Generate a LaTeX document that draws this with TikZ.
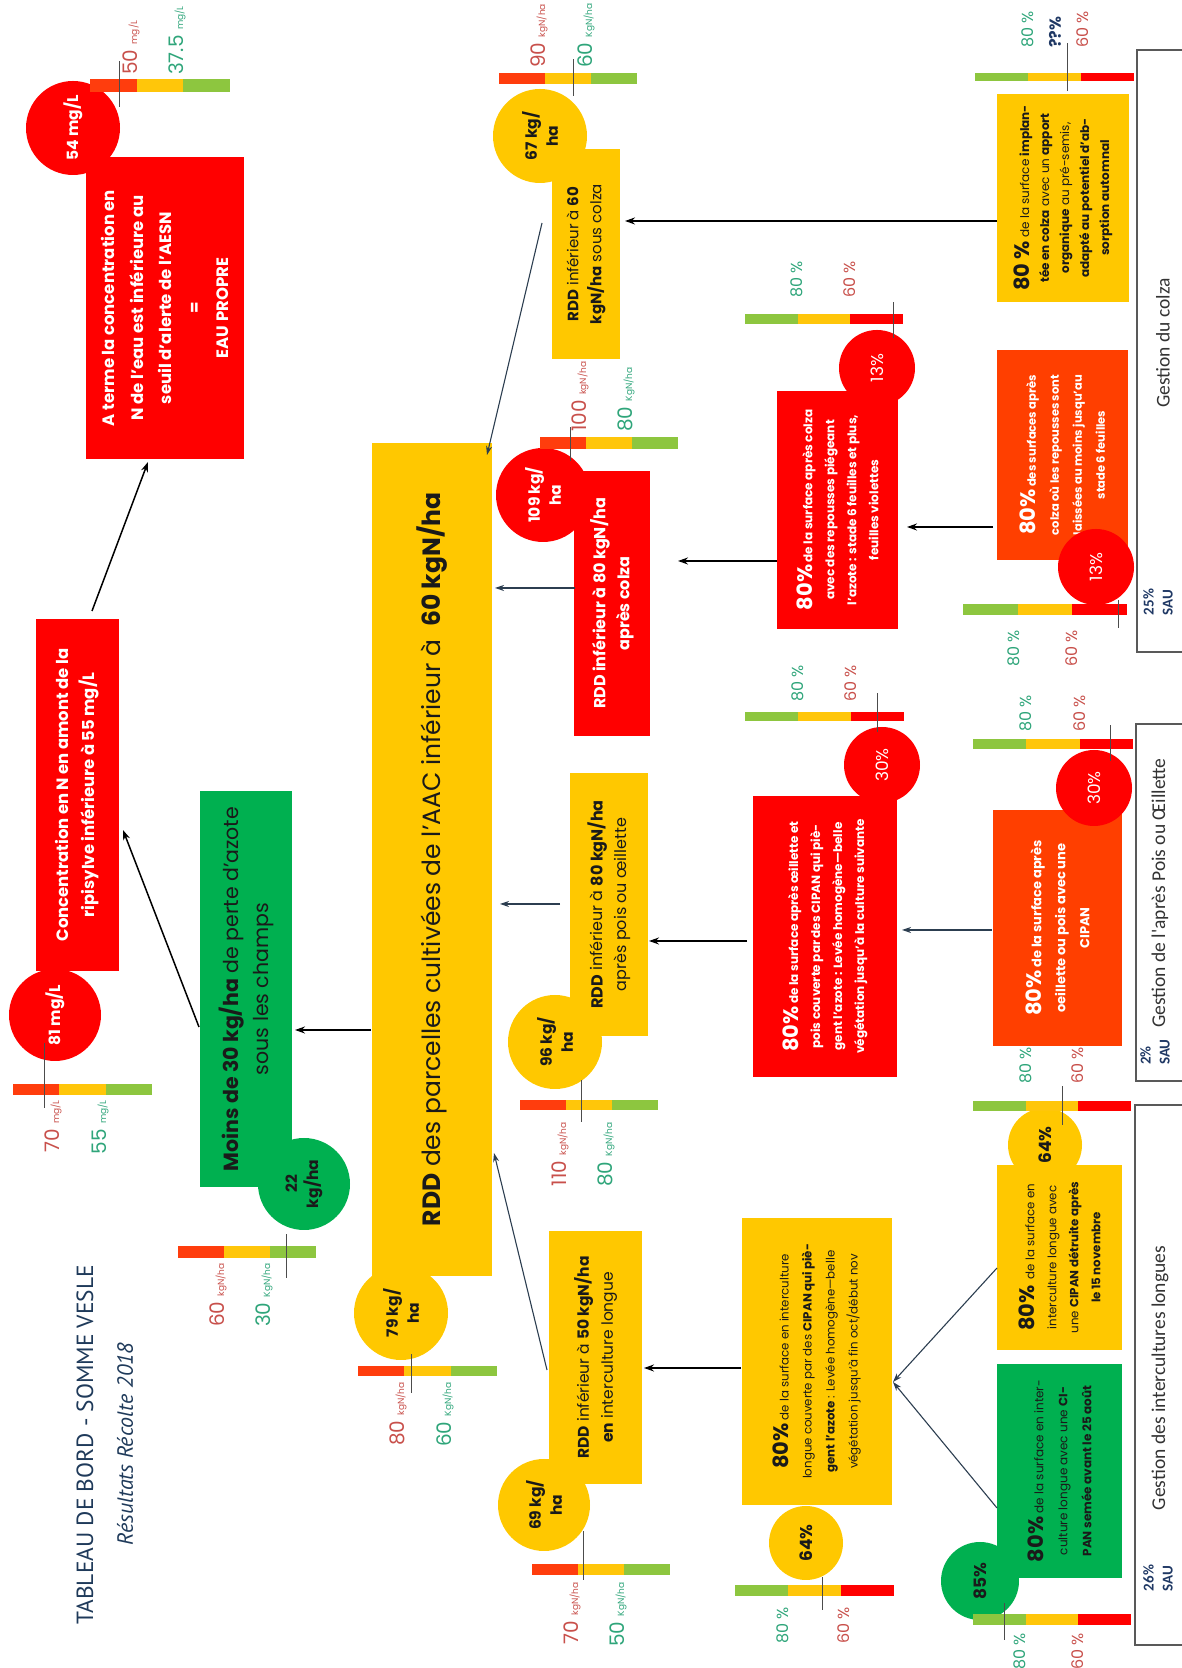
\documentclass[tikz,border=0pt]{standalone}
\usepackage{fontspec}
\setmainfont{Poppins}
\newfontfamily\titlefont{PT Sans}
\newfontfamily\gfont{Carlito}
\usetikzlibrary{arrows.meta,calc}
\definecolor{cred}{HTML}{FF0000}
\definecolor{corange}{HTML}{FF3F00}
\definecolor{cyellow}{HTML}{FFC800}
\definecolor{cgreen}{HTML}{00B050}
\definecolor{bred}{HTML}{FF3D0D}
\definecolor{byellow}{HTML}{FFC60A}
\definecolor{bgreen}{HTML}{8DC63F}
\definecolor{lred}{HTML}{C8504B}
\definecolor{lgreen}{HTML}{2FA57A}
\definecolor{slate}{HTML}{2C3E50}
\definecolor{navy}{HTML}{1F3864}
\definecolor{ink}{HTML}{1A1A1A}
\definecolor{titlec}{HTML}{1F3A5A}
\newcommand\fsz[2]{\fontsize{#1}{#2}\selectfont}
\newcommand\kgbar[4]{%
  \fill[bred] (#1,-#3) rectangle (#2,{-#3-#4});
  \fill[byellow] (#1,{-#3-#4}) rectangle (#2,{-#3-2*#4});
  \fill[bgreen] (#1,{-#3-2*#4}) rectangle (#2,{-#3-3*#4});}
\newcommand\pcbar[4]{%
  \fill[bgreen] (#1,-#3) rectangle (#2,{-#3-#4});
  \fill[byellow] (#1,{-#3-#4}) rectangle (#2,{-#3-2*#4});
  \fill[cred] (#1,{-#3-2*#4}) rectangle (#2,{-#3-3*#4});}
\newcommand\rbox[7]{\node[#6, anchor=north west, minimum width={#4pt-#2pt}, minimum height={#5pt-#3pt}] (#1) at (#2,-#3) {#7};}
\newcommand\bignum{\fsz{21}{21}\bfseries}
\tikzset{
 bx/.style={inner sep=0pt, outer sep=0pt, align=center, text=ink},
 circ/.style={circle, inner sep=0pt, outer sep=0pt, align=center, font=\fsz{15.5}{21}\bfseries},
 pcirc/.style={circle, inner sep=0pt, outer sep=0pt, align=center, font=\fsz{17}{21}},
 arr/.style={draw=black, line width=1.5pt, -{Stealth[length=10pt,width=7pt]}},
 arrs/.style={draw=slate, line width=1.1pt, -{Stealth[length=9pt,width=6pt]}},
 mline/.style={draw=black!70, line width=0.9pt},
 lbl/.style={inner sep=0pt, font=\fsz{20}{20}},
 plbl/.style={inner sep=0pt, font=\fsz{16}{16}},
 frm/.style={draw=black!65, line width=1.2pt},
 gtxt/.style={inner sep=0pt, font=\gfont\fsz{19.5}{19.5}, text=black!80},
 sau/.style={inner sep=0pt, align=left, font=\gfont\bfseries\fsz{15}{19}, text=navy},
}
\begin{document}
\begin{tikzpicture}[x=1pt,y=1pt,rotate=90,transform shape]
\useasboundingbox (0,0) rectangle (1668,-1182);

% title
\node[inner sep=0, font=\titlefont\fsz{23.4}{23.4}, text=titlec] (title) at (223,-85) {TABLEAU DE BORD - SOMME VESLE};
\node[inner sep=0, font=\titlefont\itshape\fsz{22}{22}, text=titlec] (subtitle) at (224,-125) {Résultats Récolte 2018};

% boxes
\rbox{aterme}{1209}{86}{1511}{244}{bx, fill=cred, text=white, font=\fsz{16.5}{28.5}\bfseries}{A terme la concentration en\\N de l'eau est inférieure au\\seuil d'alerte de l'AESN\\=\\EAU PROPRE}
\rbox{conc}{697}{36}{1049}{119}{bx, fill=cred, text=white, font=\fsz{16.4}{26}\bfseries}{Concentration en N en amont de la\\ripisylve inférieure à 55 mg/L}
\rbox{moins}{481}{200}{877}{292}{bx, fill=cgreen, font=\fsz{20.5}{30}}{\textbf{Moins de 30 kg/ha} de perte d'azote\\sous les champs}
\rbox{big}{392}{372}{1225}{492}{bx, fill=cyellow, font=\fsz{25}{28}}{\textbf{RDD} des parcelles cultivées de l'AAC inférieur à\ \ \textbf{60 kgN/ha}}
\rbox{rddi}{184}{549}{437}{642}{bx, fill=cyellow, font=\fsz{15.5}{24}}{\textbf{RDD} inférieur à \textbf{50 kgN/ha}\\\textbf{en} interculture longue}
\rbox{rddp}{632}{570}{895}{648}{bx, fill=cyellow, font=\fsz{16}{24}}{\textbf{RDD} inférieur à \textbf{80 kgN/ha}\\après pois ou œillette}
\rbox{rddac}{932}{574}{1197}{650}{bx, fill=cred, text=white, font=\fsz{16}{24}\bfseries}{RDD inférieur à 80 kgN/ha\\après colza}
\rbox{rddc}{1309}{552}{1519}{620}{bx, fill=cyellow, font=\fsz{15}{23}}{\textbf{RDD} inférieur à \textbf{60}\\\textbf{kgN/ha} sous colza}
\rbox{interc}{163}{742}{450}{892}{bx, fill=cyellow, font=\fsz{11.8}{23}}{{\bignum 80\%} de la surface en interculture\\longue couverte par des \textbf{CIPAN qui piè-}\\\textbf{gent l'azote} : Levée homogène—belle\\végétation jusqu'à fin oct/début nov}
\rbox{gsem}{90}{997}{304}{1122}{bx, fill=cgreen, font=\fsz{12}{24}}{{\bignum 80\%} de la surface en inter-\\culture longue avec une \textbf{CI-}\\\textbf{PAN semée avant le 25 août}}
\rbox{ydet}{318}{997}{503}{1122}{bx, fill=cyellow, font=\fsz{11.8}{22}}{{\bignum 80\%}\ \ de la surface en\\interculture longue avec\\une \textbf{CIPAN détruite après}\\\textbf{le 15 novembre}}
\rbox{redp}{591}{753}{872}{897}{bx, fill=cred, text=white, font=\fsz{12}{22}\bfseries}{{\bignum 80\%} de la surface après œillette et\\pois couverte par des CIPAN qui piè-\\gent l'azote : Levée homogène—belle\\végétation jusqu'à la culture suivante}
\rbox{orp}{622}{993}{858}{1122}{bx, fill=corange, text=white, font=\fsz{13}{24}\bfseries}{{\bignum 80\%} de la surface après\\oeillette ou pois avec une\\CIPAN}
\rbox{redc}{1039}{777}{1277}{898}{bx, fill=cred, text=white, font=\fsz{12}{22}\bfseries}{{\bignum 80\%} de la surface après colza\\avec des repousses piégeant\\l'azote : stade 6 feuilles et plus,\\feuilles violettes}
\rbox{orc}{1108}{997}{1318}{1128}{bx, fill=corange, text=white, font=\fsz{11.5}{23}\bfseries}{{\bignum 80\%} des surfaces après\\colza où les repousses sont\\laissées au moins jusqu'au\\stade 6 feuilles}
\rbox{yc}{1366}{997}{1574}{1129}{bx, fill=cyellow, font=\fsz{12}{20}}{{\bignum 80 \%} de la surface \textbf{implan-}\\\textbf{tée en colza} avec un \textbf{apport}\\\textbf{organique} au pré-semis,\\\textbf{adapté au potentiel d'ab-}\\\textbf{sorption automnal}}

% circles
\node[circ, fill=cred, text=white, minimum size=94pt] (c54) at (1540,-73) {54 mg/L};
\node[circ, fill=cred, text=white, minimum size=92pt] (c81) at (653,-55) {81 mg/L};
\node[circ, fill=cgreen, text=ink, minimum size=92pt] (c22) at (484,-304) {22\\kg/ha};
\node[circ, fill=cyellow, text=ink, minimum size=94pt] (c79) at (355,-401) {79 kg/\\ha};
\node[circ, fill=cyellow, text=ink, minimum size=92pt] (c69) at (163,-544) {69 kg/\\ha};
\node[circ, fill=cyellow, text=ink, minimum size=94pt] (c96) at (626,-555) {96 kg/\\ha};
\node[circ, fill=cyellow, text=ink, minimum size=94pt] (c67) at (1532,-540) {67 kg/\\ha};
\node[circ, fill=cred, text=white, minimum size=94pt] (c109) at (1173,-543) {109 kg/\\ha};
\node[pcirc, fill=cred, text=white, minimum size=76pt] (c13a) at (1300,-877) {13\%};
\node[pcirc, fill=cred, text=white, minimum size=76pt] (c13b) at (1101,-1096) {13\%};
\node[pcirc, fill=cred, text=white, minimum size=76pt] (c30a) at (903,-882) {30\%};
\node[pcirc, fill=cred, text=white, minimum size=76pt] (c30b) at (880,-1094) {30\%};
\node[circ, fill=cyellow, text=ink, minimum size=74pt, font=\fsz{17}{21}\bfseries] (c64a) at (125,-806) {64\%};
\node[circ, fill=cyellow, text=ink, minimum size=74pt, font=\fsz{17}{21}\bfseries] (c64b) at (523,-1045) {64\%};
\node[circ, fill=cgreen, text=ink, minimum size=78pt, font=\fsz{17}{21}\bfseries] (c85) at (87,-980) {85\%};

% bars
\kgbar{1576}{1589}{90}{46.7}
\kgbar{573}{584}{13}{46.3}
\kgbar{410}{422}{178}{46}
\kgbar{292}{302}{358}{46.3}
\kgbar{93}{104}{532}{46}
\kgbar{558}{568}{520}{46}
\kgbar{1584}{1595}{499}{46}
\kgbar{1219}{1231}{540}{46}
\pcbar{1344}{1354}{745}{52.7}
\pcbar{1587}{1595}{975}{53}
\pcbar{947}{956}{745}{53}
\pcbar{919}{929}{973}{53.3}
\pcbar{1053}{1064}{963}{54.7}
\pcbar{557}{567}{973}{52.7}
\pcbar{72}{83}{735}{53}
\pcbar{43}{54}{973}{52.7}

% markers
\draw[mline] (1561,-119) -- (1607,-119);
\draw[mline] (560,-44) -- (625,-44);
\draw[mline] (390,-286) -- (434,-286);
\draw[mline] (275,-411) -- (314,-411);
\draw[mline] (88,-583) -- (137,-583);
\draw[mline] (546,-581) -- (588,-581);
\draw[mline] (1572,-573) -- (1609,-573);
\draw[mline] (1207,-570) -- (1241,-570);
\draw[mline] (1330,-893) -- (1366,-893);
\draw[mline] (1577,-1067) -- (1625,-1067);
\draw[mline] (936,-877) -- (975,-877);
\draw[mline] (907,-1110) -- (943,-1110);
\draw[mline] (1040,-1118) -- (1068,-1118);
\draw[mline] (543,-1062) -- (582,-1062);
\draw[mline] (58,-822) -- (91,-822);
\draw[mline] (28,-1004) -- (65,-1004);

% kg labels
\node[lbl,text=lred,anchor=base west] (l54r) at (1593,-137) {50 {\fsz{9}{9}mg/L}};
\node[lbl,text=lgreen,anchor=base west] (l54g) at (1593,-183) {37.5 {\fsz{9}{9}mg/L}};
\node[lbl,text=lred,anchor=base east] (l81r) at (568,-59) {70 {\fsz{9}{9}mg/L}};
\node[lbl,text=lgreen,anchor=base east] (l81g) at (568,-106) {55 {\fsz{9}{9}mg/L}};
\node[lbl,text=lred,anchor=base east] (l22r) at (405,-224) {60 {\fsz{9}{9}kgN/ha}};
\node[lbl,text=lgreen,anchor=base east] (l22g) at (405,-270) {30 {\fsz{9}{9}KgN/ha}};
\node[lbl,text=lred,anchor=base east] (l79r) at (286,-404) {80 {\fsz{9}{9}kgN/ha}};
\node[lbl,text=lgreen,anchor=base east] (l79g) at (286,-451) {60 {\fsz{9}{9}KgN/ha}};
\node[lbl,text=lred,anchor=base east] (l69r) at (86,-578) {70 {\fsz{9}{9}kgN/ha}};
\node[lbl,text=lgreen,anchor=base east] (l69g) at (86,-624) {50 {\fsz{9}{9}KgN/ha}};
\node[lbl,text=lred,anchor=base east] (l96r) at (546,-566) {110 {\fsz{9}{9}kgN/ha}};
\node[lbl,text=lgreen,anchor=base east] (l96g) at (546,-612) {80 {\fsz{9}{9}KgN/ha}};
\node[lbl,text=lred,anchor=base west] (l67r) at (1600,-545) {90 {\fsz{9}{9}kgN/ha}};
\node[lbl,text=lgreen,anchor=base west] (l67g) at (1600,-592) {60 {\fsz{9}{9}KgN/ha}};
\node[lbl,text=lred,anchor=base west] (l109r) at (1236,-586) {100 {\fsz{9}{9}kgN/ha}};
\node[lbl,text=lgreen,anchor=base west] (l109g) at (1236,-632) {80 {\fsz{9}{9}KgN/ha}};

% percent labels
\node[plbl,text=lgreen,anchor=mid west] (p13ag) at (1370,-800) {80 \%};
\node[plbl,text=lred,anchor=mid west] (p13ar) at (1370,-853) {60 \%};
\node[plbl,text=lgreen,anchor=mid west] (pqg) at (1620,-1031) {80 \%};
\node[plbl,text=navy,anchor=mid west,font=\fsz{16}{16}\bfseries] (pqq) at (1620,-1058) {??\%};
\node[plbl,text=lred,anchor=mid west] (pqr) at (1620,-1086) {60 \%};
\node[plbl,text=lgreen,anchor=mid west] (p30ag) at (966,-801) {80 \%};
\node[plbl,text=lred,anchor=mid west] (p30ar) at (966,-854) {60 \%};
\node[plbl,text=lgreen,anchor=mid east] (p30bg) at (973,-1029) {80 \%};
\node[plbl,text=lred,anchor=mid east] (p30br) at (973,-1083) {60 \%};
\node[plbl,text=lgreen,anchor=mid east] (p13bg) at (1038,-1017) {80 \%};
\node[plbl,text=lred,anchor=mid east] (p13br) at (1038,-1075) {60 \%};
\node[plbl,text=lgreen,anchor=mid west] (p64bg) at (584,-1029) {80 \%};
\node[plbl,text=lred,anchor=mid west] (p64br) at (584,-1081) {60 \%};
\node[plbl,text=lgreen,anchor=mid east] (p64ag) at (61,-786) {80 \%};
\node[plbl,text=lred,anchor=mid east] (p64ar) at (61,-847) {60 \%};
\node[plbl,text=lgreen,anchor=mid east] (p85g) at (35,-1023) {80 \%};
\node[plbl,text=lred,anchor=mid east] (p85r) at (35,-1081) {60 \%};

% frames
\draw[frm] (1016,-1200) -- (1016,-1137) -- (1618,-1137) -- (1618,-1200);
\draw[frm] (587,-1200) -- (587,-1136) -- (944,-1136) -- (944,-1200);
\draw[frm] (23,-1200) -- (23,-1135) -- (563,-1135) -- (563,-1200);
\node[gtxt] (gcol) at (1325,-1163) {Gestion du colza};
\node[gtxt] (gpois) at (775,-1160) {Gestion de l'après Pois ou Œillette};
\node[gtxt] (gint) at (290,-1160) {Gestion des intercultures longues};
\node[sau] (scol) at (1066,-1158) {25\%\\SAU};
\node[sau] (spois) at (616,-1155) {2\%\\SAU};
\node[sau] (sint) at (90,-1158) {26\%\\SAU};

% arrows
\draw[arr] ($(conc.north east)+(8,-56)$) -- ($(aterme.north west)+(-3,-62)$);
\draw[arr] ($(moins.north west)+(160,1)$) -- ($(conc.south west)+(141,-4)$);
\draw[arr] ($(big.north west)+(246,1)$) -- ($(moins.south west)+(157,-3)$);
\draw[arrs] ($(rddi.north west)+(114,2)$) -- ($(big.south west)+(123,-2)$);
\draw[arr] ($(interc.north west)+(137,1)$) -- ($(rddi.south west)+(116,-2)$);
\draw[arrs] ($(gsem.north west)+(70,0)$) -- ($(interc.south west)+(123,-1)$);
\draw[arrs] ($(ydet.north west)+(82,0)$) -- ($(interc.south west)+(123,-1)$);
\draw[arrs] ($(rddp.north west)+(132,10)$) -- ($(big.south west)+(372,-8)$);
\draw[arr] ($(redp.north west)+(136,6)$) -- ($(rddp.south west)+(95,-1)$);
\draw[arrs] ($(orp.north west)+(116,1)$) -- ($(redp.south west)+(147,-5)$);
\draw[arrs] ($(rddc.north west)+(136,10)$) -- ($(big.south east)+(-12,5)$);
\draw[arr] ($(yc.north west)+(81,0)$) -- ($(rddc.south west)+(138,-5)$);
\draw[arrs] ($(rddac.north west)+(148,-1)$) -- ($(big.south west)+(688,-3)$);
\draw[arr] ($(redc.north west)+(68,0)$) -- ($(rddac.south west)+(175,-28)$);
\draw[arr] ($(orc.north west)+(33,4)$) -- ($(redc.south west)+(102,-9)$);
\end{tikzpicture}
\end{document}
